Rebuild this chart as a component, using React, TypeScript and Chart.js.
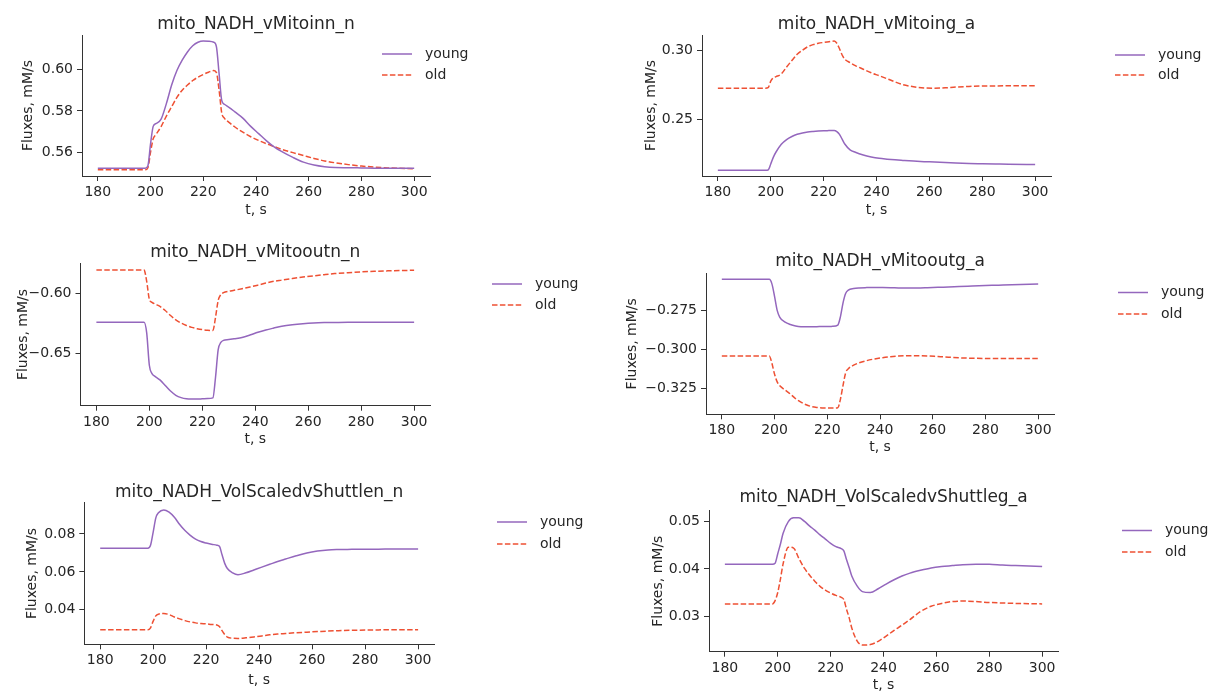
import React, { useEffect, useRef } from "react";
import { Chart, registerables } from "chart.js";

Chart.register(...registerables);

// ---------- data ----------
const tValues = [180, 198, 199, 200, 201, 202, 204, 206, 208, 210, 212, 214, 216, 218, 220, 222, 224, 225, 226, 227, 228, 230, 232, 235, 238, 241, 244, 247, 250, 254, 258, 262, 266, 270, 275, 280, 285, 290, 300];
const xTickValues = [180, 200, 220, 240, 260, 280, 300];
const xTickLabels = ["180", "200", "220", "240", "260", "280", "300"];
const seriesNames = ["young", "old"];

const titles = [
  "mito_NADH_vMitoinn_n",
  "mito_NADH_vMitoing_a",
  "mito_NADH_vMitooutn_n",
  "mito_NADH_vMitooutg_a",
  "mito_NADH_VolScaledvShuttlen_n",
  "mito_NADH_VolScaledvShuttleg_a",
];

const inn_young = [0.5523, 0.5523, 0.5535, 0.5640, 0.5725, 0.5738, 0.5760, 0.5835, 0.5925, 0.5995, 0.6045, 0.6085, 0.6115, 0.6132, 0.6138, 0.6137, 0.6132, 0.6110, 0.5980, 0.5850, 0.5832, 0.5815, 0.5795, 0.5765, 0.5725, 0.5690, 0.5655, 0.5625, 0.5602, 0.5575, 0.5552, 0.5538, 0.5530, 0.5526, 0.5525, 0.5524, 0.5523, 0.5523, 0.5522];
const inn_old = [0.5515, 0.5515, 0.5525, 0.5600, 0.5665, 0.5685, 0.5724, 0.5775, 0.5820, 0.5865, 0.5900, 0.5925, 0.5947, 0.5963, 0.5976, 0.5987, 0.5995, 0.5985, 0.5900, 0.5790, 0.5765, 0.5742, 0.5722, 0.5697, 0.5675, 0.5657, 0.5641, 0.5627, 0.5613, 0.5598, 0.5584, 0.5570, 0.5558, 0.5549, 0.5540, 0.5533, 0.5528, 0.5524, 0.5520];

const ing_young = [0.2130, 0.2130, 0.2132, 0.2175, 0.2225, 0.2262, 0.2318, 0.2352, 0.2374, 0.2390, 0.2400, 0.2407, 0.2411, 0.2414, 0.2416, 0.2417, 0.2418, 0.2410, 0.2390, 0.2355, 0.2320, 0.2278, 0.2260, 0.2240, 0.2226, 0.2216, 0.2210, 0.2205, 0.2201, 0.2196, 0.2192, 0.2189, 0.2185, 0.2182, 0.2179, 0.2177, 0.2175, 0.2173, 0.2171];
const ing_old = [0.2724, 0.2724, 0.2728, 0.2775, 0.2800, 0.2808, 0.2828, 0.2878, 0.2925, 0.2970, 0.3000, 0.3025, 0.3040, 0.3050, 0.3056, 0.3061, 0.3066, 0.3050, 0.3010, 0.2965, 0.2935, 0.2910, 0.2888, 0.2862, 0.2836, 0.2815, 0.2793, 0.2770, 0.2750, 0.2735, 0.2726, 0.2724, 0.2727, 0.2733, 0.2737, 0.2740, 0.2741, 0.2742, 0.2743];

const outn_young = [-0.6242, -0.6242, -0.6330, -0.6600, -0.6670, -0.6690, -0.6722, -0.6768, -0.6815, -0.6850, -0.6870, -0.6880, -0.6882, -0.6882, -0.6880, -0.6878, -0.6872, -0.6700, -0.6470, -0.6410, -0.6393, -0.6386, -0.6379, -0.6368, -0.6348, -0.6325, -0.6306, -0.6290, -0.6275, -0.6262, -0.6253, -0.6247, -0.6244, -0.6243, -0.6242, -0.6242, -0.6242, -0.6242, -0.6242];
const outn_old = [-0.5806, -0.5806, -0.5900, -0.6050, -0.6075, -0.6088, -0.6110, -0.6143, -0.6185, -0.6222, -0.6248, -0.6268, -0.6284, -0.6295, -0.6303, -0.6308, -0.6310, -0.6200, -0.6060, -0.6010, -0.5995, -0.5983, -0.5975, -0.5962, -0.5948, -0.5932, -0.5915, -0.5900, -0.5890, -0.5877, -0.5865, -0.5855, -0.5845, -0.5836, -0.5828, -0.5822, -0.5817, -0.5813, -0.5808];

const outg_young = [-0.2551, -0.2551, -0.2580, -0.2660, -0.2750, -0.2795, -0.2826, -0.2841, -0.2850, -0.2855, -0.2856, -0.2855, -0.2855, -0.2854, -0.2854, -0.2853, -0.2845, -0.2790, -0.2700, -0.2640, -0.2620, -0.2610, -0.2606, -0.2604, -0.2603, -0.2604, -0.2605, -0.2606, -0.2607, -0.2607, -0.2605, -0.2602, -0.2600, -0.2597, -0.2594, -0.2591, -0.2588, -0.2585, -0.2581];
const outg_old = [-0.3043, -0.3043, -0.3090, -0.3160, -0.3210, -0.3235, -0.3262, -0.3288, -0.3318, -0.3340, -0.3357, -0.3368, -0.3374, -0.3377, -0.3378, -0.3378, -0.3376, -0.3320, -0.3230, -0.3150, -0.3125, -0.3102, -0.3088, -0.3073, -0.3062, -0.3054, -0.3048, -0.3044, -0.3042, -0.3041, -0.3043, -0.3047, -0.3051, -0.3055, -0.3058, -0.3059, -0.3060, -0.3060, -0.3060];

const shn_young = [0.0725, 0.0725, 0.0740, 0.0810, 0.0885, 0.0912, 0.0927, 0.0915, 0.0888, 0.0850, 0.0818, 0.0793, 0.0773, 0.0760, 0.0752, 0.0746, 0.0741, 0.0735, 0.0690, 0.0645, 0.0618, 0.0595, 0.0585, 0.0595, 0.0610, 0.0625, 0.0640, 0.0655, 0.0668, 0.0685, 0.0700, 0.0710, 0.0716, 0.0718, 0.0719, 0.0720, 0.0720, 0.0721, 0.0721];
const shn_old = [0.0295, 0.0295, 0.0305, 0.0340, 0.0368, 0.0377, 0.0380, 0.0375, 0.0362, 0.0352, 0.0343, 0.0336, 0.0331, 0.0328, 0.0326, 0.0323, 0.0320, 0.0312, 0.0290, 0.0270, 0.0256, 0.0250, 0.0249, 0.0252, 0.0257, 0.0262, 0.0268, 0.0272, 0.0275, 0.0279, 0.0282, 0.0285, 0.0288, 0.0290, 0.0292, 0.0293, 0.0294, 0.0295, 0.0295];

const shg_young = [0.0410, 0.0410, 0.0412, 0.0432, 0.0452, 0.0475, 0.0500, 0.0508, 0.0508, 0.0501, 0.0491, 0.0482, 0.0472, 0.0463, 0.0454, 0.0447, 0.0443, 0.0438, 0.0420, 0.0403, 0.0385, 0.0364, 0.0352, 0.0350, 0.0358, 0.0368, 0.0377, 0.0385, 0.0391, 0.0397, 0.0402, 0.0405, 0.0407, 0.0409, 0.0410, 0.0410, 0.0408, 0.0407, 0.0405];
const shg_old = [0.0326, 0.0326, 0.0333, 0.0350, 0.0378, 0.0410, 0.0446, 0.0444, 0.0422, 0.0402, 0.0387, 0.0374, 0.0363, 0.0355, 0.0349, 0.0344, 0.0340, 0.0335, 0.0315, 0.0297, 0.0275, 0.0248, 0.0239, 0.0240, 0.0247, 0.0258, 0.0270, 0.0281, 0.0293, 0.0310, 0.0321, 0.0327, 0.0331, 0.0332, 0.0331, 0.0329, 0.0328, 0.0327, 0.0326];

const yTicks1 = [0.56, 0.58, 0.60];
const yLabels1 = ["0.56", "0.58", "0.60"];
const yTicks2 = [0.25, 0.30];
const yLabels2 = ["0.25", "0.30"];
const yTicks3 = [-0.65, -0.60];
const yLabels3 = ["\u22120.65", "\u22120.60"];
const yTicks4 = [-0.325, -0.3, -0.275];
const yLabels4 = ["\u22120.325", "\u22120.300", "\u22120.275"];
const yTicks5 = [0.04, 0.06, 0.08];
const yLabels5 = ["0.04", "0.06", "0.08"];
const yTicks6 = [0.03, 0.04, 0.05];
const yLabels6 = ["0.03", "0.04", "0.05"];

const xRange = [174, 306];
const yRanges = [
  [0.5485, 0.6167],
  [0.2088, 0.3110],
  [-0.6937, -0.5750],
  [-0.3418, -0.2512],
  [0.0218, 0.0965],
  [0.0225, 0.0523],
];

const xAxisTitle = "t, s";
const yAxisTitle = "Fluxes, mM/s";

// ---------- styling / layout ----------
const FONT = '"DejaVu Sans", "Liberation Sans", sans-serif';
const TEXT = "#262626";
const AXIS = "#333333";
const YOUNG_COLOR = "#9467bd";
const OLD_COLOR = "#ee5033";

type Layout = {
  box: [number, number, number, number]; // canvas x, y, w, h (page)
  area: [number, number, number, number]; // L, T, R, B (page)
  titleY: number;
  xTitleY: number;
  yTitleX: number;
  legendX: number;
  legendY: [number, number];
};

const layouts: Layout[] = [
  { box: [0, 0, 605, 230], area: [82, 35, 430, 176], titleY: 25, xTitleY: 210, yTitleX: 28.5, legendX: 382, legendY: [54, 75] },
  { box: [605, 0, 606, 230], area: [702, 35, 1051, 176], titleY: 25, xTitleY: 210, yTitleX: 651, legendX: 1115, legendY: [55, 75] },
  { box: [0, 230, 605, 230], area: [80.5, 263.3, 430, 405.7], titleY: 253, xTitleY: 439, yTitleX: 23, legendX: 492, legendY: [284, 305] },
  { box: [605, 230, 606, 230], area: [706, 273.3, 1054, 414.3], titleY: 261.7, xTitleY: 447, yTitleX: 632, legendX: 1118, legendY: [292.5, 314] },
  { box: [0, 460, 605, 231], area: [84.3, 502.7, 434, 644.3], titleY: 493, xTitleY: 680, yTitleX: 32.5, legendX: 497, legendY: [522, 544] },
  { box: [605, 460, 606, 231], area: [709, 510.7, 1058, 651.7], titleY: 498, xTitleY: 685, yTitleX: 658, legendX: 1122, legendY: [530.5, 552] },
];

const panelSeries = [
  [inn_young, inn_old],
  [ing_young, ing_old],
  [outn_young, outn_old],
  [outg_young, outg_old],
  [shn_young, shn_old],
  [shg_young, shg_old],
];
const panelYTicks = [yTicks1, yTicks2, yTicks3, yTicks4, yTicks5, yTicks6];
const panelYLabels = [yLabels1, yLabels2, yLabels3, yLabels4, yLabels5, yLabels6];

const sideLegend = {
  id: "sideLegend",
  afterDraw(chart: any, _args: any, opts: any) {
    const ctx = chart.ctx;
    chart.data.datasets.forEach((ds: any, i: number) => {
      const y = opts.ys[i];
      const x = opts.x;
      ctx.save();
      ctx.strokeStyle = ds.borderColor;
      ctx.lineWidth = ds.borderWidth;
      ctx.setLineDash(ds.borderDash || []);
      ctx.beginPath();
      ctx.moveTo(x, y);
      ctx.lineTo(x + 30, y);
      ctx.stroke();
      ctx.setLineDash([]);
      ctx.fillStyle = TEXT;
      ctx.font = `14px ${FONT}`;
      ctx.textAlign = "left";
      ctx.textBaseline = "middle";
      ctx.fillText(ds.label, x + 43, y);
      ctx.restore();
    });
  },
};

function Panel({ idx }: { idx: number }) {
  const ref = useRef<HTMLCanvasElement | null>(null);
  const lay = layouts[idx];
  const [cx, cy, cw, ch] = lay.box;

  useEffect(() => {
    if (!ref.current) return;
    const [L, T, R, B] = lay.area;
    const titleSize = 17;
    const labelLH = 14 * 1.2;
    const padTop = lay.titleY - titleSize / 2 - cy;
    const titlePadBottom = Math.max(0, T - cy - padTop - titleSize);
    const padLeft = lay.yTitleX - cx - labelLH / 2;
    const yWidth = L - cx - padLeft;
    const padBottom = cy + ch - (lay.xTitleY + labelLH / 2);
    const xHeight = lay.xTitleY + labelLH / 2 - B;
    const padRight = cx + cw - R;

    const yT = panelYTicks[idx];
    const yL = panelYLabels[idx];
    const [young, old] = panelSeries[idx];

    const chart = new Chart(ref.current, {
      type: "line",
      data: {
        datasets: [
          {
            label: seriesNames[0],
            data: tValues.map((t, i) => ({ x: t, y: young[i] })),
            borderColor: YOUNG_COLOR,
            borderWidth: 1.5,
            pointRadius: 0,
            cubicInterpolationMode: "monotone",
            fill: false,
          },
          {
            label: seriesNames[1],
            data: tValues.map((t, i) => ({ x: t, y: old[i] })),
            borderColor: OLD_COLOR,
            borderWidth: 1.5,
            borderDash: [5.5, 2.4],
            pointRadius: 0,
            cubicInterpolationMode: "monotone",
            fill: false,
          },
        ],
      },
      options: {
        animation: false,
        responsive: false,
        maintainAspectRatio: false,
        devicePixelRatio: 1,
        events: [],
        layout: { padding: { top: padTop, left: padLeft, right: padRight, bottom: padBottom } },
        plugins: {
          legend: { display: false },
          tooltip: { enabled: false },
          title: {
            display: true,
            text: titles[idx],
            color: TEXT,
            fullSize: false,
            font: { family: FONT, size: titleSize, weight: "normal", lineHeight: 1 },
            padding: { top: 0, bottom: titlePadBottom },
          },
          sideLegend: { x: lay.legendX - cx, ys: [lay.legendY[0] - cy, lay.legendY[1] - cy] },
        } as any,
        scales: {
          x: {
            type: "linear",
            min: xRange[0],
            max: xRange[1],
            afterBuildTicks: (s: any) => {
              s.ticks = xTickValues.map((v) => ({ value: v }));
            },
            afterFit: (s: any) => {
              s.height = xHeight;
            },
            ticks: {
              autoSkip: false,
              maxRotation: 0,
              padding: 3,
              color: TEXT,
              font: { family: FONT, size: 14 },
              callback: (_v: any, i: number) => xTickLabels[i],
            },
            grid: { display: true, drawOnChartArea: false, drawTicks: true, tickLength: 5, tickColor: AXIS, tickWidth: 1 },
            border: { display: true, color: AXIS, width: 1 },
            title: {
              display: true,
              text: xAxisTitle,
              color: TEXT,
              font: { family: FONT, size: 14, lineHeight: 1.2 },
              padding: 0,
            },
          },
          y: {
            type: "linear",
            min: yRanges[idx][0],
            max: yRanges[idx][1],
            afterBuildTicks: (s: any) => {
              s.ticks = yT.map((v) => ({ value: v }));
            },
            afterFit: (s: any) => {
              s.width = yWidth;
            },
            ticks: {
              autoSkip: false,
              padding: 4,
              color: TEXT,
              font: { family: FONT, size: 14 },
              callback: (_v: any, i: number) => yL[i],
            },
            grid: { display: true, drawOnChartArea: false, drawTicks: true, tickLength: 5, tickColor: AXIS, tickWidth: 1 },
            border: { display: true, color: AXIS, width: 1 },
            title: {
              display: true,
              text: yAxisTitle,
              color: TEXT,
              font: { family: FONT, size: 14, lineHeight: 1.2 },
              padding: 0,
            },
          },
        },
      },
      plugins: [sideLegend],
    } as any);
    return () => chart.destroy();
  }, [idx]);

  return (
    <canvas
      ref={ref}
      width={cw}
      height={ch}
      style={{ position: "absolute", left: cx, top: cy, width: cw, height: ch }}
    />
  );
}

export default function App() {
  return (
    <div style={{ position: "absolute", left: 0, top: 0, width: 1211, height: 691, background: "#ffffff", overflow: "hidden" }}>
      {titles.map((_, i) => (
        <Panel key={i} idx={i} />
      ))}
    </div>
  );
}
